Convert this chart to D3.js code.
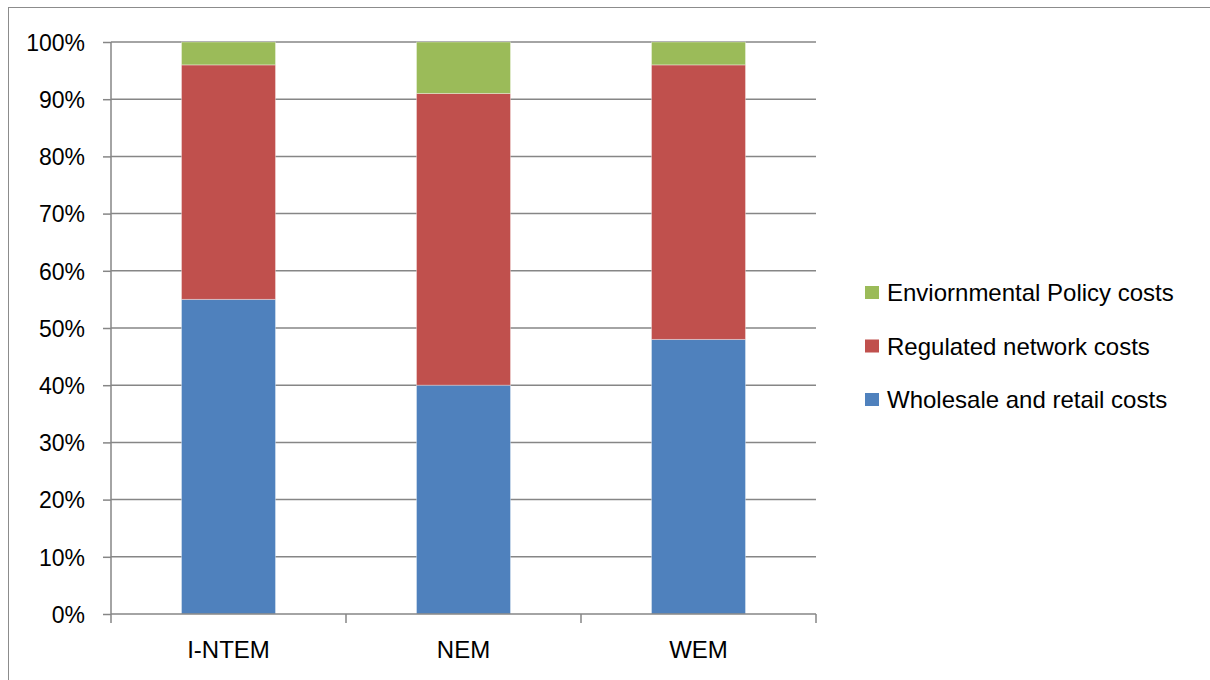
<!DOCTYPE html>
<html>
<head>
<meta charset="utf-8">
<script src="https://cdn.jsdelivr.net/npm/d3@7"></script>
<style>
  body { margin: 0; background: #fff; }
  text { font-family: "Liberation Sans", Arial, sans-serif; fill: #000; }
</style>
</head>
<body>
<div id="chart"></div>
<script>
"use strict";

// Data
var categories = ["I-NTEM", "NEM", "WEM"];
var wholesale = [55, 40, 48];
var network = [41, 51, 48];
var environmental = [4, 9, 4];
var seriesNames = ["Wholesale and retail costs", "Regulated network costs", "Enviornmental Policy costs"];
var seriesColors = ["#4F81BD", "#C0504D", "#9BBB59"];
var yTicks = [0, 10, 20, 30, 40, 50, 60, 70, 80, 90, 100];

var W = 1210, H = 680;
var margin = { top: 42, left: 111, right: 394, bottom: 66 };
var width = W - margin.left - margin.right;
var height = H - margin.top - margin.bottom;

var svg = d3.select("#chart").append("svg")
    .attr("width", W)
    .attr("height", H);

// outer frame
svg.append("rect")
    .attr("x", 8.5).attr("y", 7.5)
    .attr("width", 1300).attr("height", 800)
    .attr("fill", "none")
    .attr("stroke", "#8c8c8c")
    .attr("stroke-width", 1);

var g = svg.append("g")
    .attr("transform", "translate(" + margin.left + "," + margin.top + ")");

var xScale = d3.scaleBand().domain(categories).range([0, width]).paddingInner(0.6).paddingOuter(0.3);
var xGroup = d3.scaleBand().domain(categories).range([0, width]);
var yScale = d3.scaleLinear().domain([0, 100]).range([height, 0]);

// gridlines
g.append("g")
    .selectAll("line")
    .data(yTicks.filter(function (d) { return d > 0; }))
    .enter().append("line")
    .attr("x1", 0).attr("x2", width)
    .attr("y1", function (d) { return yScale(d); })
    .attr("y2", function (d) { return yScale(d); })
    .attr("stroke", "#868686")
    .attr("stroke-width", 1.5);

// stacked bars
var rows = categories.map(function (c, i) {
    return { cat: c, w: wholesale[i], n: network[i], e: environmental[i] };
});
var stack = d3.stack().keys(["w", "n", "e"]);
var layers = stack(rows);

g.selectAll(".layer")
    .data(layers)
    .enter().append("g")
    .attr("class", "layer")
    .attr("fill", function (d, i) { return seriesColors[i]; })
    .selectAll("rect")
    .data(function (d) { return d; })
    .enter().append("rect")
    .attr("x", function (d) { return xScale(d.data.cat); })
    .attr("width", xScale.bandwidth())
    .attr("y", function (d) { return yScale(d[1]); })
    .attr("height", function (d) { return yScale(d[0]) - yScale(d[1]); })
    .attr("stroke", "rgba(255,255,255,0.35)")
    .attr("stroke-width", 1);

// y axis
var yAxis = d3.axisLeft(yScale).tickValues(yTicks).tickSize(8).tickPadding(18)
    .tickFormat(function (d) { return d + "%"; });
var yG = g.append("g").call(yAxis);
yG.select(".domain").attr("stroke", "#868686").attr("stroke-width", 1.5).attr("d", "M0,0V" + height);
yG.selectAll(".tick line").attr("stroke", "#868686").attr("stroke-width", 1.5);
yG.selectAll(".tick text").style("font-size", "23px").attr("dy", "0.36em")
    .style("font-family", "'Liberation Sans', Arial, sans-serif").attr("fill", "#000");

// x axis
var xAxis = d3.axisBottom(xGroup).tickSize(0).tickPadding(27);
var xG = g.append("g").attr("transform", "translate(0," + height + ")").call(xAxis);
xG.select(".domain").attr("stroke", "#868686").attr("stroke-width", 1.5).attr("d", "M0,0H" + width);
xG.selectAll(".tick text").style("font-size", "24px")
    .style("font-family", "'Liberation Sans', Arial, sans-serif").attr("fill", "#000");
xG.selectAll(".divider")
    .data(d3.range(categories.length + 1))
    .enter().append("line")
    .attr("class", "divider")
    .attr("x1", function (i) { return i * xGroup.step(); })
    .attr("x2", function (i) { return i * xGroup.step(); })
    .attr("y1", 0).attr("y2", 9)
    .attr("stroke", "#868686")
    .attr("stroke-width", 1.5);

// legend
var legendItems = [2, 1, 0];
var legend = svg.append("g").attr("transform", "translate(865,286)");
var item = legend.selectAll(".item")
    .data(legendItems)
    .enter().append("g")
    .attr("class", "item")
    .attr("transform", function (d, i) { return "translate(0," + (i * 53.5) + ")"; });
item.append("rect")
    .attr("width", 14).attr("height", 13)
    .attr("fill", function (d) { return seriesColors[d]; });
item.append("text")
    .attr("x", 22).attr("y", 15)
    .style("font-size", "24px")
    .text(function (d) { return seriesNames[d]; });
</script>
</body>
</html>
